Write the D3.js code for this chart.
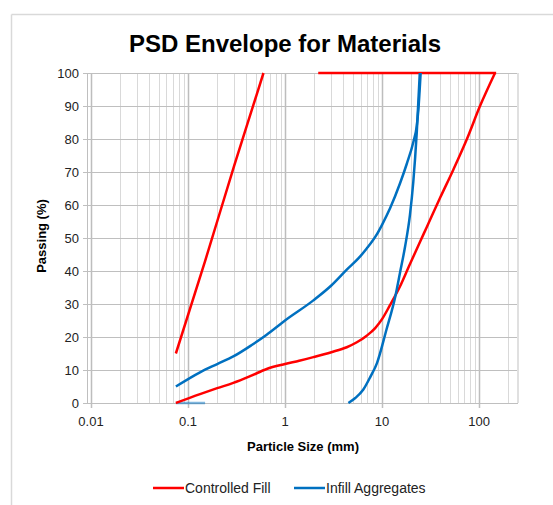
<!DOCTYPE html>
<html lang="en">
<head>
    <meta charset="UTF-8">
    <script src="https://d3js.org/d3.v7.min.js"></script>
    <title>psd_envelope</title>
    <style>
        body { margin: 0; background: #fff; }
        text { font-family: "Liberation Sans", Arial, sans-serif; fill: #222; }
    </style>
</head>
<body>
    <script type="text/javascript">

// particle size (mm) and % passing
var fillUpperSize = [0.075, 0.15, 0.3, 0.6];
var fillUpperPass = [15, 43, 72, 100];

var fillTopSize = [2.2, 150];
var fillTopPass = [100, 100];

var fillLowerSize = [0.075, 0.133, 0.2, 0.293, 0.45, 0.647, 1, 1.4, 1.96, 3, 4.33, 5.5, 6.95, 8.5, 10, 12, 15.3, 19, 24.6, 28.8, 40, 54.3, 75, 102, 146];
var fillLowerPass = [0, 2.7, 4.5, 6.1, 8.3, 10.3, 11.8, 12.8, 13.9, 15.4, 16.9, 18.4, 20.4, 22.7, 25.4, 29.5, 35.3, 41.5, 48.8, 53.2, 62.4, 70.7, 80, 89.9, 100];

var infillFineSize = [0.075, 0.133, 0.2, 0.293, 0.45, 0.647, 1, 1.96, 3, 4.33, 5.7, 6.95, 8.8, 10, 12.1, 15.3, 18, 21, 22.8, 23.7, 25];
var infillFinePass = [5, 9.3, 11.8, 14.1, 17.5, 20.7, 25, 31.1, 35.6, 40.4, 43.8, 46.8, 51, 54, 59, 66.5, 72.5, 79, 84, 89, 100];

var infillCoarseSize = [4.5, 5.3, 6.39, 7.6, 8.87, 11.1, 13.7, 15.3, 17.3, 19.4, 21, 22.8, 24.5];
var infillCoarsePass = [0, 1.5, 4, 8, 12.1, 22.2, 32.3, 39.4, 47.5, 57, 67, 82, 100];

var infillBaseSize = [0.075, 0.15];
var infillBasePass = [0, 0];

var xTicks = [0.01, 0.1, 1, 10, 100];
var yTicks = [0, 10, 20, 30, 40, 50, 60, 70, 80, 90, 100];

var width = 553, height = 505;
var plotL = 87, plotR = 518, plotT = 73, plotB = 403;

var svg = d3.select("body").append("svg").attr("width", width).attr("height", height);

// outer frame (only top and left edges show in the picture)
svg.append("line").attr("x1", 11.5).attr("x2", width).attr("y1", 14.5).attr("y2", 14.5)
    .attr("stroke", "#d9d9d9").attr("stroke-width", 1.5);
svg.append("line").attr("x1", 11.5).attr("x2", 11.5).attr("y1", 14.5).attr("y2", height)
    .attr("stroke", "#d9d9d9").attr("stroke-width", 1.5);

var x = d3.scaleLog().domain([0.0091, 252]).range([plotL, plotR]);
var y = d3.scaleLinear().domain([0, 100]).range([plotB, plotT]);

// minor + major vertical grid
var minor = [];
[0.01, 0.1, 1, 10, 100].forEach(function(dec)
{
    for (var k = 1; k <= 9; k++)
    {
        var v = +(dec * k).toPrecision(3);
        if (x(v) <= plotR) minor.push(v);
    }
});

svg.append("g").selectAll("line").data(minor).enter().append("line")
    .attr("x1", function(d) { return Math.round(x(d)) + 0.5; })
    .attr("x2", function(d) { return Math.round(x(d)) + 0.5; })
    .attr("y1", plotT).attr("y2", plotB)
    .attr("stroke", function(d) { return xTicks.indexOf(d) >= 0 ? "#bdbdbd" : "#d9d9d9"; })
    .attr("stroke-width", function(d) { return xTicks.indexOf(d) >= 0 ? 1.5 : 1; });

// horizontal grid
svg.append("g").selectAll("line").data(yTicks).enter().append("line")
    .attr("x1", plotL - 4).attr("x2", plotR)
    .attr("y1", function(d) { return Math.round(y(d)) + 0.5; })
    .attr("y2", function(d) { return Math.round(y(d)) + 0.5; })
    .attr("stroke", "#bfbfbf").attr("stroke-width", 1.2);

// left edge of plot + right band
svg.append("line").attr("x1", plotL + 0.5).attr("x2", plotL + 0.5).attr("y1", plotT).attr("y2", plotB)
    .attr("stroke", "#bfbfbf");
svg.append("line").attr("x1", plotR).attr("x2", plotR).attr("y1", plotT).attr("y2", plotB)
    .attr("stroke", "#e0e0e0").attr("stroke-width", 2);

// x major ticks below axis
svg.append("g").selectAll("line").data(xTicks).enter().append("line")
    .attr("x1", function(d) { return Math.round(x(d)) + 0.5; })
    .attr("x2", function(d) { return Math.round(x(d)) + 0.5; })
    .attr("y1", plotB).attr("y2", plotB + 5)
    .attr("stroke", "#bfbfbf").attr("stroke-width", 1.5);

// tick labels
svg.append("g").selectAll("text").data(xTicks).enter().append("text")
    .attr("x", function(d) { return x(d); })
    .attr("y", 426)
    .attr("text-anchor", "middle")
    .style("font-size", "13px")
    .text(function(d) { return d; });

svg.append("g").selectAll("text").data(yTicks).enter().append("text")
    .attr("x", 79)
    .attr("y", function(d) { return y(d) + 4.5; })
    .attr("text-anchor", "end")
    .style("font-size", "13px")
    .text(function(d) { return d; });

// titles
svg.append("text").attr("x", 285).attr("y", 52).attr("text-anchor", "middle")
    .style("font-size", "24px").style("font-weight", "bold").style("fill", "#000")
    .text("PSD Envelope for Materials");

svg.append("text").attr("x", 303).attr("y", 451).attr("text-anchor", "middle")
    .style("font-size", "13px").style("font-weight", "bold").style("fill", "#000")
    .text("Particle Size (mm)");

svg.append("text").attr("transform", "translate(46,236) rotate(-90)").attr("text-anchor", "middle")
    .style("font-size", "13px").style("font-weight", "bold").style("fill", "#000")
    .text("Passing (%)");

// series
var line = d3.line()
    .x(function(d) { return x(d[0]); })
    .y(function(d) { return y(d[1]); })
    .curve(d3.curveMonotoneX);

function pairs(s, p) { return s.map(function(v, i) { return [v, p[i]]; }); }

var red = "#ff0000", blue = "#0070c0";
var series = [
    { pts: pairs(infillBaseSize, infillBasePass), color: blue, op: 0.5 },
    { pts: pairs(fillTopSize, fillTopPass), color: red, op: 1 },
    { pts: pairs(fillUpperSize, fillUpperPass), color: red, op: 1 },
    { pts: pairs(fillLowerSize, fillLowerPass), color: red, op: 1 },
    { pts: pairs(infillFineSize, infillFinePass), color: blue, op: 1 },
    { pts: pairs(infillCoarseSize, infillCoarsePass), color: blue, op: 1 }
];

svg.append("g").selectAll("path").data(series).enter().append("path")
    .attr("d", function(d) { return line(d.pts); })
    .attr("fill", "none")
    .attr("stroke", function(d) { return d.color; })
    .attr("stroke-opacity", function(d) { return d.op; })
    .attr("stroke-width", 2.5)
    .attr("stroke-linejoin", "round");

// legend
var legend = [["Controlled Fill", red, 153], ["Infill Aggregates", blue, 294]];
var lg = svg.append("g").selectAll("g").data(legend).enter().append("g");
lg.append("line")
    .attr("x1", function(d) { return d[2]; })
    .attr("x2", function(d) { return d[2] + 31; })
    .attr("y1", 488).attr("y2", 488)
    .attr("stroke", function(d) { return d[1]; }).attr("stroke-width", 2.5);
lg.append("text")
    .attr("x", function(d) { return d[2] + 32; })
    .attr("y", 493)
    .style("font-size", "14px")
    .text(function(d) { return d[0]; });

    </script>
</body>
</html>
